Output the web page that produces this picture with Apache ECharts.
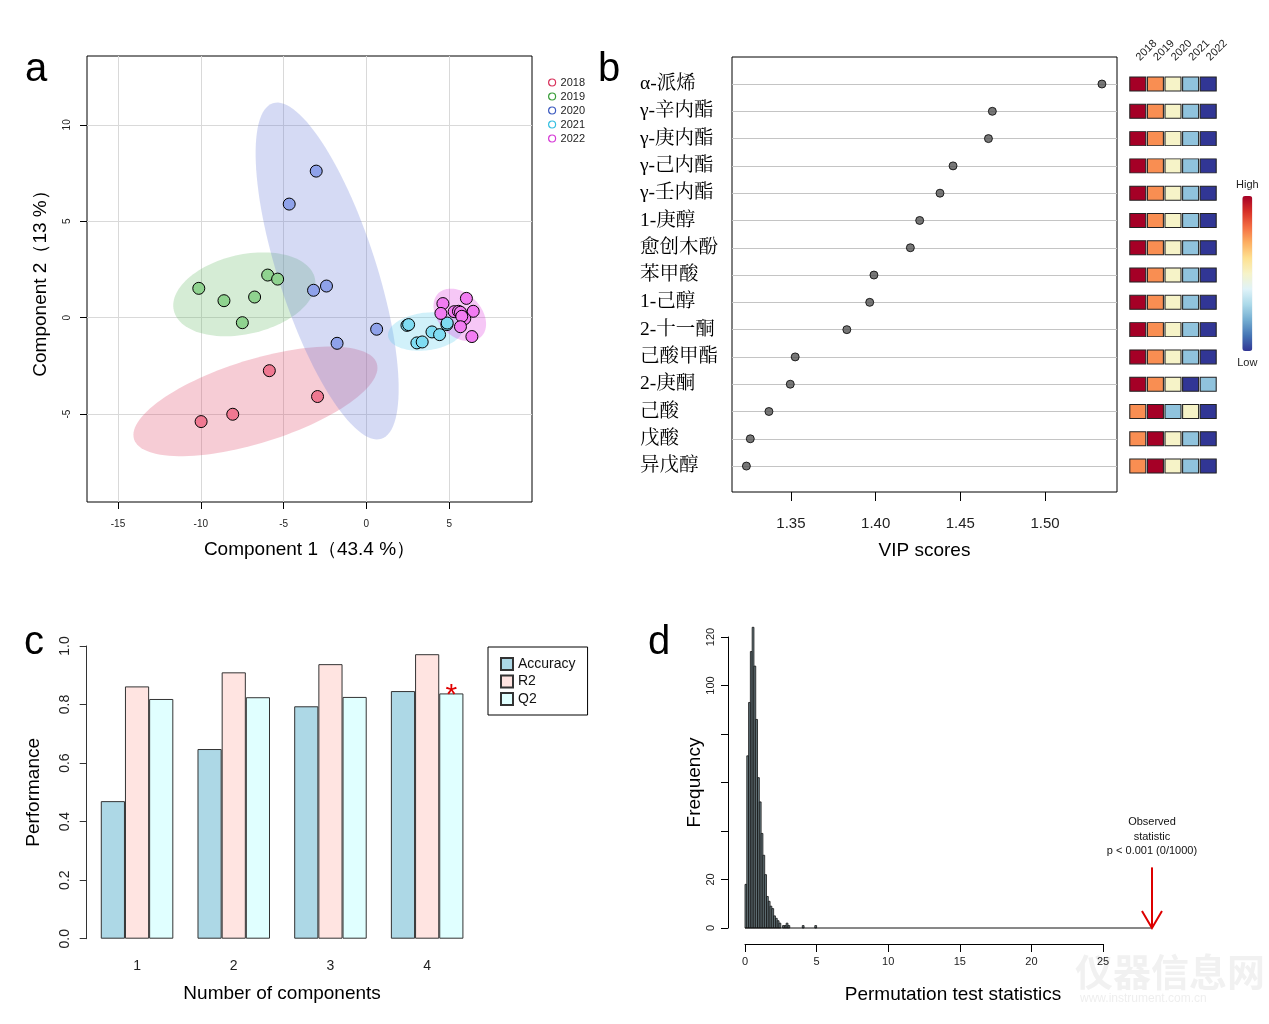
<!DOCTYPE html>
<html><head><meta charset="utf-8">
<script src="https://cdn.jsdelivr.net/npm/echarts@6/dist/echarts.min.js"></script>
<style>html,body{margin:0;padding:0;background:#fff}#c{width:1269px;height:1024px}</style>
</head><body><div id="c"></div>
<script>
// ---------- data ----------
const years = ['2018', '2019', '2020', '2021', '2022'];
const pts2018 = [[-9.98, -5.39], [-8.07, -5.01], [-5.86, -2.75], [-2.95, -4.09]];
const pts2019 = [[-10.12, 1.52], [-8.6, 0.88], [-6.75, 1.07], [-5.96, 2.21], [-5.36, 2.0], [-7.49, -0.26]];
const pts2020 = [[-3.03, 7.6], [-4.66, 5.89], [-3.19, 1.42], [-2.41, 1.64], [0.62, -0.6], [-1.77, -1.33]];
const pts2021 = [[2.45, -0.4], [2.55, -0.36], [3.05, -1.31], [3.37, -1.26], [3.96, -0.74], [4.42, -0.88], [4.86, -0.36], [4.88, -0.28]];
const pts2022 = [[6.04, 1.0], [4.62, 0.73], [4.5, 0.22], [5.3, 0.31], [5.56, 0.33], [5.68, 0.28], [6.45, 0.33], [5.94, -0.05], [5.76, 0.07], [5.68, -0.47], [6.37, -0.98]];
// confidence ellipses: centre x, centre y, semi-axis 1 (dx, dy), semi-axis 2 (dx, dy) in data units
const ellipse2018 = [-6.70, -4.34, 7.33, 1.96, 0.75, -2.06];
const ellipse2019 = [-7.37, 1.21, 4.26, 0.83, 0.53, -2.01];
const ellipse2020 = [-2.37, 2.42, 3.28, -8.70, 2.81, 0.78];
const ellipse2021 = [3.58, -0.72, 2.27, 0.23, 0.13, -0.97];
const ellipse2022 = [5.64, 0.14, 1.30, -1.12, 0.91, 0.78];
const pcaXTicks = [-15, -10, -5, 0, 5];
const pcaYTicks = [-5, 0, 5, 10];

const compounds = ['α-派烯', 'γ-辛内酯', 'γ-庚内酯', 'γ-己内酯', 'γ-壬内酯', '1-庚醇', '愈创木酚', '苯甲酸', '1-己醇', '2-十一酮', '己酸甲酯', '2-庚酮', '己酸', '戊酸', '异戊醇'];
const vipScores = [1.5336, 1.4689, 1.4666, 1.4457, 1.4380, 1.4260, 1.4205, 1.3990, 1.3965, 1.3830, 1.3525, 1.3496, 1.3370, 1.3260, 1.3237];
const vipTicks = [1.35, 1.40, 1.45, 1.50];
// relative level per year (5 = high, 1 = low)
const heatRanks = [
  [5, 4, 3, 2, 1], [5, 4, 3, 2, 1], [5, 4, 3, 2, 1], [5, 4, 3, 2, 1], [5, 4, 3, 2, 1],
  [5, 4, 3, 2, 1], [5, 4, 3, 2, 1], [5, 4, 3, 2, 1], [5, 4, 3, 2, 1], [5, 4, 3, 2, 1],
  [5, 4, 3, 2, 1], [5, 4, 3, 1, 2], [4, 5, 2, 3, 1], [4, 5, 3, 2, 1], [4, 5, 3, 2, 1]
];

const components = ['1', '2', '3', '4'];
const accuracy = [0.470, 0.648, 0.794, 0.846];
const r2 = [0.862, 0.910, 0.938, 0.972];
const q2 = [0.819, 0.825, 0.826, 0.838];
const bestComponent = 3; // index of starred Q2

const histBinWidth = 0.125;
const histCounts = [18, 71, 93, 114, 124, 108, 86, 62, 52, 39, 30, 22, 13, 11, 9, 8, 5, 4, 3, 2, 0, 1, 1, 2, 1,
  0, 0, 0, 0, 0, 0, 0, 1, 0, 0, 0, 0, 0, 0, 1];
const freqLabelTicks = [0, 20, 100, 120];
const observedStat = 28.42;
const arrowTop = 25;

// ---------- style ----------
const SANS = "'Liberation Sans', Arial, sans-serif";
const SERIF_CJK = "'Liberation Serif', 'Noto Serif CJK SC', 'Noto Sans CJK SC', serif";
const pointFill = ['#ef7891', '#8fd38f', '#8fa2ea', '#7fdcf2', '#f27cf2'];
const legendStroke = ['#d8325c', '#3a9e3a', '#3d5bc0', '#35bfe0', '#d63ad6'];
const ellipseFill = ['rgba(222,72,105,0.28)', 'rgba(105,188,105,0.28)', 'rgba(105,122,215,0.28)', 'rgba(88,205,238,0.28)', 'rgba(222,55,222,0.28)'];
const rdylbu = ['#313695', '#4575b4', '#74add1', '#abd9e9', '#e0f3f8', '#f6f3c8', '#fee090', '#fdae61', '#f46d43', '#d73027', '#a50026'];

const ptsAll = [pts2018, pts2019, pts2020, pts2021, pts2022];
const ellAll = [ellipse2018, ellipse2019, ellipse2020, ellipse2021, ellipse2022];
const nRow = compounds.length;
const rowVals = compounds.map((_, i) => nRow - i);

const chart = echarts.init(document.getElementById('c'), null, { renderer: 'canvas' });

const series = [];
// ellipses
series.push({
  type: 'custom', xAxisIndex: 0, yAxisIndex: 0, clip: true, silent: true, z: 1,
  data: ellAll,
  encode: { x: 0, y: 1 },
  renderItem: function (params, api) {
    const e = ellAll[params.dataIndex];
    const pts = [];
    for (let k = 0; k < 120; k++) {
      const t = k / 120 * Math.PI * 2;
      pts.push(api.coord([e[0] + e[2] * Math.cos(t) + e[4] * Math.sin(t), e[1] + e[3] * Math.cos(t) + e[5] * Math.sin(t)]));
    }
    return { type: 'polygon', shape: { points: pts }, style: { fill: ellipseFill[params.dataIndex] } };
  }
});
years.forEach((y, i) => {
  series.push({
    type: 'scatter', name: y, xAxisIndex: 0, yAxisIndex: 0, z: 3,
    data: ptsAll[i], symbolSize: 12,
    itemStyle: { color: pointFill[i], borderColor: '#000', borderWidth: 1, opacity: 1 }
  });
});
// VIP dots
series.push({
  type: 'scatter', xAxisIndex: 1, yAxisIndex: 1, symbolSize: 8,
  data: vipScores.map((v, i) => [v, rowVals[i]]),
  itemStyle: { color: '#555', borderColor: '#000', borderWidth: 1 }
});
// heat cells
const heatSeriesIndex = series.length;
const heatData = [];
heatRanks.forEach((row, i) => row.forEach((r, j) => heatData.push([j, rowVals[i], r])));
series.push({
  type: 'scatter', xAxisIndex: 2, yAxisIndex: 2, symbol: 'rect', symbolSize: [16, 14],
  data: heatData,
  itemStyle: { borderColor: '#222', borderWidth: 1, opacity: 1 }
});
// bars
const barStyle = (c) => ({ color: c, borderColor: '#333', borderWidth: 1 });
series.push({ type: 'bar', name: 'Accuracy', xAxisIndex: 3, yAxisIndex: 3, data: accuracy, barGap: '0%', barCategoryGap: '25%', itemStyle: barStyle('#add8e6') });
series.push({ type: 'bar', name: 'R2', xAxisIndex: 3, yAxisIndex: 3, data: r2, barGap: '0%', barCategoryGap: '25%', itemStyle: barStyle('#ffe4e1') });
series.push({
  type: 'bar', name: 'Q2', xAxisIndex: 3, yAxisIndex: 3, data: q2, barGap: '0%', barCategoryGap: '25%', itemStyle: barStyle('#e0ffff'),
  markPoint: {
    symbol: 'circle', symbolSize: 1, itemStyle: { color: 'rgba(0,0,0,0)' },
    data: [{ coord: [bestComponent, q2[bestComponent]] }],
    label: { show: true, formatter: '*', position: 'inside', offset: [0, 2], color: '#e00000', fontSize: 30, fontFamily: SANS }
  }
});
// histogram
series.push({
  type: 'custom', xAxisIndex: 4, yAxisIndex: 4, clip: false, silent: true,
  data: histCounts.map((c, i) => [i * histBinWidth, c, (i + 1) * histBinWidth]),
  encode: { x: 0, y: 1 },
  renderItem: function (params, api) {
    const c = api.value(1);
    if (!c) return null;
    const p0 = api.coord([api.value(0), c]);
    const p1 = api.coord([api.value(2), 0]);
    return { type: 'rect', shape: { x: p0[0], y: p0[1], width: p1[0] - p0[0], height: p1[1] - p0[1] },
      style: { fill: '#6f8288', stroke: '#111', lineWidth: 0.8 } };
  }
});
// zero-count bins: baseline up to the observed statistic, plus the arrow
series.push({
  type: 'custom', xAxisIndex: 4, yAxisIndex: 4, clip: false, silent: true,
  data: [[observedStat, arrowTop]], encode: { x: 0, y: 1 },
  renderItem: function (params, api) {
    const top = api.coord([api.value(0), api.value(1)]);
    const bot = api.coord([api.value(0), 0]);
    const origin = api.coord([0, 0]);
    const st = { stroke: '#dd0000', lineWidth: 2, fill: null };
    return { type: 'group', children: [
      { type: 'line', shape: { x1: origin[0], y1: origin[1], x2: bot[0], y2: bot[1] }, style: { stroke: '#111', lineWidth: 1 } },
      { type: 'line', shape: { x1: top[0], y1: top[1], x2: bot[0], y2: bot[1] }, style: st },
      { type: 'polyline', shape: { points: [[bot[0] - 10, bot[1] - 17], [bot[0], bot[1]], [bot[0] + 10, bot[1] - 17]] }, style: st },
      { type: 'text', x: top[0], y: top[1] - 9, style: { text: 'Observed\nstatistic\np < 0.001 (0/1000)', align: 'center', verticalAlign: 'bottom', fontSize: 11, lineHeight: 14.5, fontFamily: SANS, fill: '#111' } }
    ] };
  }
});

const axTxt = { color: '#222', fontFamily: SANS };
const nameTxt = { fontSize: 19, color: '#000', fontFamily: SANS };

const option = {
  animation: false,
  backgroundColor: '#fff',
  textStyle: { fontFamily: SANS },
  grid: [
    { left: 87, top: 56, width: 445, height: 446, show: true, borderColor: '#000', borderWidth: 1, backgroundColor: 'transparent' },
    { left: 732, top: 57, width: 385, height: 435, show: true, borderColor: '#000', borderWidth: 1, backgroundColor: 'transparent' },
    { left: 1129, top: 57, width: 88, height: 435 },
    { left: 88.7, top: 646, width: 386.8, height: 292.7 },
    { left: 745, top: 637, width: 358, height: 291 }
  ],
  xAxis: [
    { gridIndex: 0, type: 'value', min: -16.87, max: 10.0, minInterval: 5, maxInterval: 5,
      axisLine: { show: false, onZero: false }, axisTick: { show: true, length: 7, customValues: pcaXTicks, lineStyle: { color: '#000' } },
      axisLabel: Object.assign({ customValues: pcaXTicks, fontSize: 10, margin: 17 }, axTxt),
      splitLine: { show: true, lineStyle: { color: '#d9d9d9', width: 1 } },
      name: 'Component 1（43.4 %）', nameLocation: 'middle', nameGap: 38, nameTextStyle: nameTxt },
    { gridIndex: 1, type: 'value', min: 1.3152, max: 1.5425, minInterval: 0.05, maxInterval: 0.05,
      axisLine: { show: false, onZero: false }, axisTick: { show: true, length: 9, customValues: vipTicks, lineStyle: { color: '#000' } },
      axisLabel: Object.assign({ customValues: vipTicks, fontSize: 15, margin: 24, formatter: v => v.toFixed(2) }, axTxt),
      splitLine: { show: false },
      name: 'VIP scores', nameLocation: 'middle', nameGap: 49, nameTextStyle: nameTxt },
    { gridIndex: 2, type: 'category', data: years, position: 'top', offset: -2,
      axisLine: { show: false }, axisTick: { show: false },
      axisLabel: Object.assign({ rotate: -45, fontSize: 11, margin: 0, interval: 0 }, axTxt) },
    { gridIndex: 3, type: 'category', data: components,
      axisLine: { show: false }, axisTick: { show: false },
      axisLabel: Object.assign({ fontSize: 14, margin: 20 }, axTxt),
      name: 'Number of components', nameLocation: 'middle', nameGap: 46, nameTextStyle: nameTxt },
    { gridIndex: 4, type: 'value', min: 0, max: 25, interval: 5, offset: 16,
      axisLine: { show: true, onZero: false, lineStyle: { color: '#000', width: 1 } }, axisTick: { show: true, length: 8, lineStyle: { color: '#000' } },
      axisLabel: Object.assign({ fontSize: 11, margin: 12 }, axTxt), splitLine: { show: false },
      name: 'Permutation test statistics', nameLocation: 'middle', nameGap: 41,
      nameTextStyle: Object.assign({ padding: [0, 0, 0, 58] }, nameTxt) }
  ],
  yAxis: [
    { gridIndex: 0, type: 'value', min: -9.56, max: 13.57, minInterval: 5, maxInterval: 5,
      axisLine: { show: false, onZero: false }, axisTick: { show: true, length: 7, customValues: pcaYTicks, lineStyle: { color: '#000' } },
      axisLabel: Object.assign({ customValues: pcaYTicks, rotate: 90, fontSize: 10, margin: 15 }, axTxt),
      splitLine: { show: true, lineStyle: { color: '#d9d9d9', width: 1 } },
      name: 'Component 2（13 %）', nameLocation: 'middle', nameGap: 37, nameTextStyle: nameTxt },
    { gridIndex: 1, type: 'value', min: 0.05, max: 15.99, minInterval: 1, maxInterval: 1,
      axisLine: { show: false, onZero: false }, axisTick: { show: false, customValues: rowVals },
      axisLabel: { customValues: rowVals, align: 'left', margin: 92, fontSize: 19.5, color: '#000', fontFamily: SERIF_CJK,
        formatter: v => (Number.isInteger(v) && v >= 1 && v <= nRow) ? compounds[nRow - v] : '' },
      splitLine: { show: true, lineStyle: { color: '#c4c4c4', width: 1.2 } } },
    { gridIndex: 2, type: 'value', min: 0.05, max: 15.99, show: false },
    { gridIndex: 3, type: 'value', min: 0, max: 1, interval: 0.2, offset: 2,
      axisLine: { show: true, onZero: false, lineStyle: { color: '#333', width: 1 } }, axisTick: { show: true, length: 7, lineStyle: { color: '#333' } },
      axisLabel: Object.assign({ rotate: 90, fontSize: 14, margin: 15, formatter: v => v.toFixed(1) }, axTxt),
      splitLine: { show: false },
      name: 'Performance', nameLocation: 'middle', nameGap: 43, nameTextStyle: nameTxt },
    { gridIndex: 4, type: 'value', min: 0, max: 120, interval: 20, offset: 17,
      axisLine: { show: true, onZero: false, lineStyle: { color: '#000', width: 1 } }, axisTick: { show: true, length: 7, lineStyle: { color: '#000' } },
      axisLabel: Object.assign({ customValues: freqLabelTicks, rotate: 90, fontSize: 11, margin: 12 }, axTxt),
      splitLine: { show: false },
      name: 'Frequency', nameLocation: 'middle', nameGap: 20, nameTextStyle: nameTxt }
  ],
  legend: [
    { left: 548, top: 77, orient: 'vertical', icon: 'circle', itemWidth: 7, itemHeight: 7, itemGap: 3, padding: 0, selectedMode: false,
      textStyle: { fontSize: 11, color: '#222', fontFamily: SANS },
      data: years.map((y, i) => ({ name: y, itemStyle: { color: '#fff', borderColor: legendStroke[i], borderWidth: 1.2 } })) },
    { left: 488, top: 647, orient: 'vertical', icon: 'rect', itemWidth: 12, itemHeight: 12, itemGap: 3.5, selectedMode: false,
      padding: [10, 12, 9, 12], borderColor: '#000', borderWidth: 1,
      textStyle: { fontSize: 14, color: '#111', fontFamily: SANS }, data: ['Accuracy', 'R2', 'Q2'] }
  ],
  visualMap: {
    type: 'continuous', min: 1, max: 5, dimension: 2, seriesIndex: heatSeriesIndex,
    inRange: { color: rdylbu }, calculable: false, orient: 'vertical',
    left: 1221, top: 164, itemWidth: 10, itemHeight: 155, text: ['High', 'Low'], textGap: 6,
    textStyle: { fontSize: 11, color: '#222', fontFamily: SANS }
  },
  graphic: [
    { type: 'text', left: 25, top: 50, style: { text: 'a', font: '40px ' + SANS, fill: '#000' } },
    { type: 'text', left: 598, top: 50, style: { text: 'b', font: '40px ' + SANS, fill: '#000' } },
    { type: 'text', left: 24, top: 623, style: { text: 'c', font: '40px ' + SANS, fill: '#000' } },
    { type: 'text', left: 648, top: 623, style: { text: 'd', font: '40px ' + SANS, fill: '#000' } },
    { type: 'text', left: 1075, top: 953, style: { text: '仪器信息网', font: 'bold 38px "Noto Sans CJK SC"', fill: 'rgba(170,170,170,0.16)' } },
    { type: 'text', left: 1080, top: 993, style: { text: 'www.instrument.com.cn', font: '12px ' + SANS, fill: 'rgba(170,170,170,0.2)' } }
  ],
  series: series
};
chart.setOption(option);
</script>
</body></html>
